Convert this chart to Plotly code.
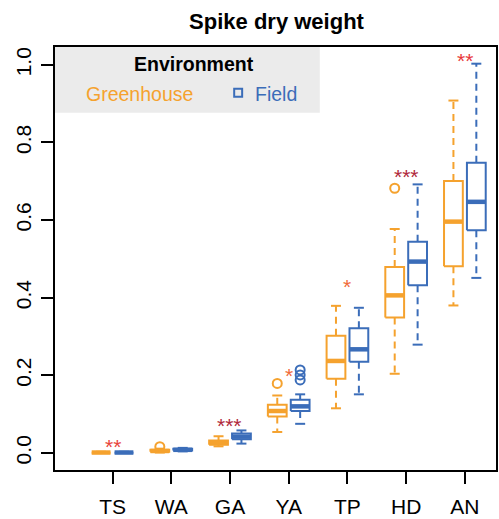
import plotly.graph_objects as go

categories = ["TS", "WA", "GA", "YA", "TP", "HD", "AN"]

# Greenhouse box statistics
gh_low = [0.000, 0.001, 0.017, 0.054, 0.115, 0.204, 0.380]
gh_q1 = [0.0005, 0.003, 0.021, 0.094, 0.191, 0.349, 0.481]
gh_med = [0.001, 0.005, 0.026, 0.108, 0.237, 0.406, 0.596]
gh_q3 = [0.0015, 0.008, 0.032, 0.124, 0.302, 0.479, 0.701]
gh_high = [0.003, 0.011, 0.043, 0.148, 0.379, 0.577, 0.908]
gh_out = [[], [0.016], [], [0.179], [], [0.682], []]

# Field box statistics
fd_low = [0.000, 0.004, 0.024, 0.075, 0.151, 0.279, 0.451]
fd_q1 = [0.0005, 0.006, 0.035, 0.108, 0.235, 0.432, 0.574]
fd_med = [0.001, 0.008, 0.042, 0.120, 0.267, 0.493, 0.647]
fd_q3 = [0.0015, 0.011, 0.050, 0.137, 0.321, 0.544, 0.748]
fd_high = [0.003, 0.013, 0.058, 0.151, 0.374, 0.692, 1.003]
fd_out = [[], [], [], [0.188, 0.201, 0.214], [], [], []]

# significance labels
sig_text = ["**", "", "***", "*", "*", "***", "**"]
sig_y = [0.020, None, 0.074, 0.203, 0.432, 0.715, 1.015]
sig_color = ["#E8443A", None, "#B0283A", "#F06A3A", "#F06A3A", "#B0283A", "#E8383A"]

ORANGE = "#F5A22E"
BLUE = "#3B6DB9"
FONT = "Liberation Sans, Arial, sans-serif"

fig = go.Figure()

HW = 0.16   # box half width
CW = 0.085  # cap half width


def add_series(offset, low, q1, med, q3, high, outs, color, name):
    bx, by, mx, my, wx, wy, cx, cy, ox, oy = [], [], [], [], [], [], [], [], [], []
    for i in range(len(categories)):
        x = i + offset
        bx += [x - HW, x + HW, x + HW, x - HW, x - HW, None]
        by += [q1[i], q1[i], q3[i], q3[i], q1[i], None]
        mx += [x - HW, x + HW, None]
        my += [med[i], med[i], None]
        wx += [x, x, None, x, x, None]
        wy += [q3[i], high[i], None, q1[i], low[i], None]
        cx += [x - CW, x + CW, None, x - CW, x + CW, None]
        cy += [high[i], high[i], None, low[i], low[i], None]
        for v in outs[i]:
            ox.append(x)
            oy.append(v)
    fig.add_trace(go.Scatter(x=wx, y=wy, mode="lines", line=dict(color=color, width=2, dash="7px,5px"),
                             showlegend=False, hoverinfo="skip", name=name))
    fig.add_trace(go.Scatter(x=cx, y=cy, mode="lines", line=dict(color=color, width=2),
                             showlegend=False, hoverinfo="skip"))
    fig.add_trace(go.Scatter(x=bx, y=by, mode="lines", line=dict(color=color, width=2),
                             fill="toself", fillcolor="white", showlegend=False, hoverinfo="skip"))
    fig.add_trace(go.Scatter(x=mx, y=my, mode="lines", line=dict(color=color, width=4.5),
                             showlegend=False, hoverinfo="skip"))
    fig.add_trace(go.Scatter(x=ox, y=oy, mode="markers",
                             marker=dict(symbol="circle-open", size=9, color=color, line=dict(width=2)),
                             showlegend=False, hoverinfo="skip"))


add_series(-0.195, gh_low, gh_q1, gh_med, gh_q3, gh_high, gh_out, ORANGE, "Greenhouse")
add_series(0.195, fd_low, fd_q1, fd_med, fd_q3, fd_high, fd_out, BLUE, "Field")

annotations = []
for i, t in enumerate(sig_text):
    if t:
        annotations.append(dict(x=i, y=sig_y[i], xref="x", yref="y", text=t, showarrow=False,
                                font=dict(family=FONT, size=21, color=sig_color[i]),
                                xanchor="center", yanchor="middle", yshift=-1))

# plot-area pixel geometry for the legend panel
L, R, T, B = 55, 498, 47, 472


def px(xp):
    return (xp - L) / (R - L)


def py(yp):
    return (B - yp) / (B - T)


annotations += [
    dict(x=px(195), y=py(64), xref="paper", yref="paper", text="<b>Environment</b>", showarrow=False,
         font=dict(family=FONT, size=19.5, color="black"), xanchor="center", yanchor="middle"),
    dict(x=px(140), y=py(94), xref="paper", yref="paper", text="Greenhouse", showarrow=False,
         font=dict(family=FONT, size=19.5, color=ORANGE), xanchor="center", yanchor="middle"),
    dict(x=px(254), y=py(94), xref="paper", yref="paper", text="Field", showarrow=False,
         font=dict(family=FONT, size=19.5, color=BLUE), xanchor="left", yanchor="middle"),
]

shapes = [
    dict(type="rect", xref="paper", yref="paper", x0=0, x1=px(321), y0=py(113), y1=1,
         fillcolor="#EBEBEB", line=dict(width=0), layer="below"),
    dict(type="rect", xref="paper", yref="paper", x0=px(235), x1=px(243), y0=py(97), y1=py(89),
         fillcolor="rgba(0,0,0,0)", line=dict(color=BLUE, width=2), layer="above"),
]

fig.update_layout(
    width=499, height=519,
    margin=dict(l=L, r=499 - R, t=T, b=519 - B),
    plot_bgcolor="white", paper_bgcolor="white",
    title=dict(text="<b>Spike dry weight</b>", x=(L + R) / 2 / 499, xanchor="center",
               y=1 - 21 / 519, yanchor="middle", font=dict(family=FONT, size=22, color="black")),
    annotations=annotations, shapes=shapes, showlegend=False,
    xaxis=dict(range=[-0.98, 6.53], tickvals=list(range(len(categories))), ticktext=categories,
               showline=True, mirror=True, linecolor="black", linewidth=1.5, showgrid=False, zeroline=False,
               ticks="outside", ticklen=12, tickwidth=1.5, tickcolor="black", ticklabelstandoff=5,
               tickfont=dict(family=FONT, size=21, color="black")),
    yaxis=dict(range=[-0.044, 1.046], tickvals=[0, 0.2, 0.4, 0.6, 0.8, 1.0],
               ticktext=["0.0", "0.2", "0.4", "0.6", "0.8", "1.0"], tickangle=-90,
               showline=True, mirror=True, linecolor="black", linewidth=1.5, showgrid=False, zeroline=False,
               ticks="outside", ticklen=12, tickwidth=1.5, tickcolor="black", ticklabelstandoff=2,
               tickfont=dict(family=FONT, size=21, color="black")),
)

fig.write_html("out.html")
